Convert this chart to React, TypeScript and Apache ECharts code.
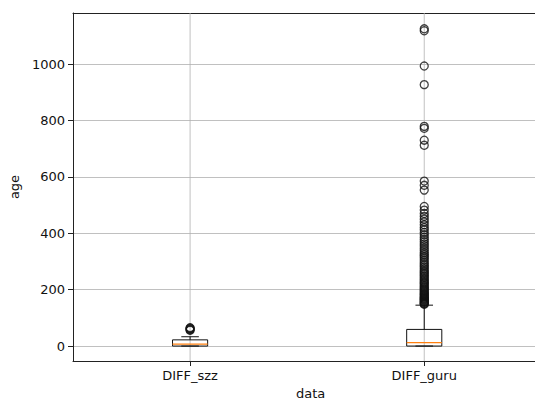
import React, { useEffect, useRef } from 'react';
import * as echarts from 'echarts';

const categories = ['DIFF_szz', 'DIFF_guru'];
const positions = [1, 2];
const whiskerLow = [0, 0];
const q1 = [0, 0];
const medians = [7, 12];
const q3 = [22, 59];
const whiskerHigh = [33, 145];
const szzOutliers = [56, 58, 61, 63, 65];
const guruOutliers = [
  148, 150, 152, 155, 157, 160, 163, 165, 168, 170, 173, 176, 180, 183, 186, 190, 194, 198,
  202, 206, 210, 215, 220, 224, 228, 233, 238, 243, 248, 253, 258, 263, 268, 274, 280, 286,
  292, 298, 305, 312, 318, 325, 332, 340, 347, 355, 362, 370, 378, 386, 395, 403, 412, 420,
  430, 440, 450, 460, 470, 482, 495, 553, 570, 585, 712, 730, 772, 779, 927, 993, 1118, 1125,
];
const yTicks = [0, 200, 400, 600, 800, 1000];
const yMin = -53;
const yMax = 1181;
const xMin = 0.5;
const xMax = 2.473;

const FONT = 'DejaVu Sans';
const AXIS_COLOR = '#222';

export default function App() {
  const ref = useRef<HTMLDivElement>(null);
  useEffect(() => {
    document.body.style.margin = '0';
    if (!ref.current) return;
    const chart = echarts.init(ref.current, undefined, { renderer: 'svg' });

    const boxData = positions.map((p, i) => [p, whiskerLow[i], q1[i], medians[i], q3[i], whiskerHigh[i]]);
    const outlierData = [
      ...szzOutliers.map((v) => [positions[0], v]),
      ...guruOutliers.map((v) => [positions[1], v]),
    ];

    chart.setOption({
      animation: false,
      grid: {
        left: 73,
        right: 0,
        top: 13,
        bottom: 43,
        outerBoundsMode: 'none',
        show: false,
      },
      graphic: [
        {
          type: 'text',
          left: 296,
          top: 387,
          style: { text: 'data', font: '13px "DejaVu Sans"', fill: '#111' },
        },
      ],
      xAxis: [
        {
          type: 'value',
          min: xMin,
          max: xMax,
          position: 'bottom',
          axisLine: { show: true, onZero: false, lineStyle: { color: AXIS_COLOR, width: 1 } },
          axisTick: { show: true, length: 5, customValues: positions, lineStyle: { color: AXIS_COLOR, width: 1 } },
          axisLabel: {
            fontFamily: FONT,
            fontSize: 13,
            color: '#111',
            margin: 8,
            customValues: positions,
            formatter: (v: number) => categories[Math.round(v) - 1] ?? '',
          },
          splitLine: { show: false },
        },
        {
          type: 'value',
          min: xMin,
          max: xMax,
          position: 'top',
          axisLine: { show: true, onZero: false, lineStyle: { color: AXIS_COLOR, width: 1 } },
          axisTick: { show: false },
          axisLabel: { show: false },
          splitLine: { show: false },
        },
      ],
      yAxis: {
        type: 'value',
        min: yMin,
        max: yMax,
        name: 'age',
        nameLocation: 'middle',
        nameGap: 40,
        nameTextStyle: { fontFamily: FONT, fontSize: 13, color: '#111' },
        axisLine: { show: true, onZero: false, lineStyle: { color: AXIS_COLOR, width: 1 } },
        axisTick: { show: true, length: 5, customValues: yTicks, lineStyle: { color: AXIS_COLOR, width: 1 } },
        axisLabel: {
          fontFamily: FONT,
          fontSize: 13,
          color: '#111',
          margin: 8,
          customValues: yTicks,
          formatter: (v: number) => String(v),
        },
        splitLine: { show: true, lineStyle: { color: '#b0b0b0', width: 0.8 } },
      },
      series: [
        {
          type: 'custom',
          data: boxData,
          xAxisIndex: 0,
          encode: { x: 0, y: [1, 2, 3, 4, 5] },
          z: 2,
          renderItem: (params: any, api: any) => {
            const pos = api.value(0);
            const unit = api.size([1, 0])[0];
            const bw = unit * 0.15;
            const cw = bw / 2;
            const x = api.coord([pos, 0])[0];
            const yLow = api.coord([pos, api.value(1)])[1];
            const yQ1 = api.coord([pos, api.value(2)])[1];
            const yMed = api.coord([pos, api.value(3)])[1];
            const yQ3 = api.coord([pos, api.value(4)])[1];
            const yHigh = api.coord([pos, api.value(5)])[1];
            const yTop = api.coord([pos, yMax])[1];
            const yBot = api.coord([pos, yMin])[1];
            const black = () => ({ stroke: '#111', lineWidth: 1 });
            return {
              type: 'group',
              children: [
                { type: 'line', shape: { x1: x, y1: yTop, x2: x, y2: yBot }, style: { stroke: '#b0b0b0', lineWidth: 0.8 }, z2: 0 },
                { type: 'line', shape: { x1: x, y1: yQ3, x2: x, y2: yHigh }, style: black(), z2: 1 },
                { type: 'line', shape: { x1: x, y1: yQ1, x2: x, y2: yLow }, style: black(), z2: 1 },
                { type: 'line', shape: { x1: x - cw / 2, y1: yHigh, x2: x + cw / 2, y2: yHigh }, style: black(), z2: 1 },
                { type: 'line', shape: { x1: x - cw / 2, y1: yLow, x2: x + cw / 2, y2: yLow }, style: black(), z2: 1 },
                { type: 'rect', shape: { x: x - bw / 2, y: yQ3, width: bw, height: yQ1 - yQ3 }, style: { stroke: '#111', lineWidth: 1, fill: 'none' }, z2: 1 },
                { type: 'line', shape: { x1: x - bw / 2, y1: yMed, x2: x + bw / 2, y2: yMed }, style: { stroke: '#ff7f0e', lineWidth: 1.2 }, z2: 2 },
              ],
            };
          },
        },
        {
          type: 'scatter',
          data: outlierData,
          xAxisIndex: 0,
          z: 3,
          symbol: 'circle',
          symbolSize: 8,
          itemStyle: { color: 'rgba(0,0,0,0)', borderColor: '#111', borderWidth: 1.3 },
        },
      ],
    });
    return () => chart.dispose();
  }, []);
  return <div ref={ref} style={{ width: 535, height: 404 }} />;
}
